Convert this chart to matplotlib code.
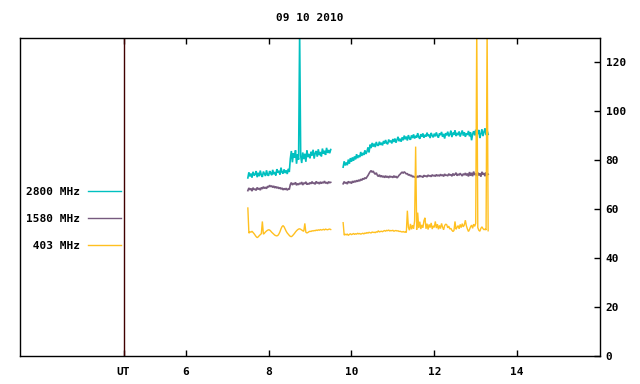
import matplotlib
matplotlib.use("Agg")
import matplotlib.pyplot as plt
import numpy as np

# sampling times (UT hours), two recording blocks, 0.025 h apart
t_block1 = np.round(np.arange(7.500, 9.5001, 0.025), 3)
t_block2 = np.round(np.arange(9.800, 13.3001, 0.025), 3)

# 2800 MHz flux
f2800_b1 = [72.8, 75.1, 73.4, 74.6, 72.9, 75.3, 73.8, 74.2, 75.6, 73.1,
            74.9, 73.5, 75.8, 74.0, 73.2, 75.4, 74.5, 73.6, 75.9, 74.1,
            73.7, 75.6, 74.8, 73.9, 76.1, 74.3, 75.2, 73.8, 76.4, 74.9,
            75.7, 74.2, 77.0, 75.1, 74.6, 76.3, 74.8, 75.9, 74.4, 76.5,
            75.2,
            80.6, 83.8, 79.2, 82.9, 81.0, 84.1, 78.6, 82.4, 80.3,
            131.5,
            81.8, 78.9, 83.2, 80.5, 82.7, 79.4, 84.0, 81.3, 82.6,
            80.8, 83.5, 81.9, 84.3, 80.7, 82.9, 83.8, 81.5, 84.5, 82.1,
            83.4, 81.6, 84.8, 82.7, 83.9, 82.2, 85.1, 83.0, 84.2, 82.9,
            84.4]
f2800_b2 = [77.2, 79.6, 77.9, 79.1, 78.0, 80.3, 78.6, 80.9, 79.4, 81.2,
            79.8, 81.6, 80.4, 82.5, 80.9, 82.0, 81.3, 83.4, 81.8, 83.0,
            82.2, 84.1, 82.6, 83.6, 85.3, 83.2, 86.4, 85.0, 87.1, 85.6,
            86.8, 85.4, 87.5, 86.2, 86.0, 87.6, 86.3, 87.2, 86.1, 87.9,
            86.8, 88.3, 87.0, 86.6, 88.5, 87.4, 88.1, 86.9, 88.7, 87.5,
            88.9, 87.2, 88.4, 89.6, 87.8, 88.8, 87.6, 89.4, 88.2, 90.1,
            88.6, 89.7, 88.1, 90.3, 89.0, 88.4, 90.2, 89.1, 90.6, 88.9,
            90.0, 89.3, 91.1, 89.5, 88.8, 90.7, 89.6, 91.0, 89.2, 90.4,
            89.7, 91.3, 89.9, 90.5, 89.1, 91.2, 90.1, 89.4, 90.9, 89.8,
            91.4, 90.0, 89.3, 91.0, 90.3, 91.6, 89.6, 90.8, 88.9, 91.1,
            90.2, 91.7, 89.8, 90.6, 92.1, 89.5, 91.3, 90.4, 92.3, 89.9,
            91.2, 90.3, 91.8, 89.7, 90.9, 92.2, 90.1, 91.5, 89.6, 91.0,
            90.4, 92.0, 89.8, 91.4, 88.2, 90.7, 91.9, 90.2, 92.5, 89.6,
            91.3, 92.4, 89.1, 90.8, 92.7, 89.9, 91.6, 93.0, 90.3, 92.1,
            90.6]

# 1580 MHz flux
f1580_b1 = [67.6, 68.7, 67.9, 68.5, 67.4, 68.8, 68.0, 68.3, 67.7, 68.9,
            68.1, 68.6, 67.8, 68.9, 68.3, 69.2, 68.5, 69.0, 68.4, 69.4,
            69.0, 69.8, 69.2, 69.6, 68.9, 69.5, 68.7, 69.3, 68.6, 69.1,
            68.4, 68.9, 68.2, 68.7, 67.9, 68.5, 68.0, 68.6, 67.8, 68.3,
            68.1,
            70.1, 70.9, 69.9, 70.6, 70.2, 71.0, 69.8, 70.5, 70.0,
            70.7,
            70.3, 71.1, 69.9, 70.8, 70.4, 71.2, 70.1, 70.6, 70.2,
            70.9, 70.4, 71.3, 70.5, 70.8, 70.2, 71.4, 70.6, 71.0, 70.3,
            71.2, 70.5, 71.1, 70.7, 71.5, 70.6, 71.0, 70.4, 71.3, 70.8,
            71.0]
f1580_b2 = [70.4, 71.3, 70.6, 71.0, 70.3, 71.4, 70.8, 71.2, 70.5, 71.5,
            70.9, 71.6, 71.1, 71.8, 71.3, 72.0, 71.5, 72.3, 71.8, 72.6,
            72.2, 72.9, 72.5, 73.2, 73.8, 74.6, 75.3, 75.8, 75.1, 75.6,
            74.8, 74.3, 74.9, 73.9, 73.4, 74.1, 73.2, 73.8, 73.1, 73.6,
            72.9, 73.7, 73.0, 73.5, 72.8, 73.6, 73.1, 73.4, 72.9, 73.7,
            73.0, 73.5, 72.8, 73.3, 73.9, 74.3, 74.8, 75.2, 74.7, 75.3,
            74.9, 74.4, 74.6, 73.9, 74.2, 73.6, 73.9, 73.2, 73.5, 73.0,
            73.4, 72.9, 73.6, 73.1, 73.8, 73.3, 73.5, 73.0, 73.9, 73.4,
            73.7, 73.2, 74.0, 73.5, 73.8, 73.3, 74.1, 73.6, 73.9, 73.4,
            74.2, 73.6, 74.0, 73.5, 74.3, 73.7, 74.1, 73.4, 74.4, 73.8,
            74.0, 73.6, 74.5, 73.9, 74.2, 73.5, 74.6, 73.8, 74.3, 74.9,
            73.7, 74.4, 73.9, 74.7, 74.1, 73.6, 74.5, 74.0, 74.8, 73.8,
            74.6, 73.4, 75.2, 73.7, 74.9, 73.5, 75.4, 74.0, 74.6, 73.6,
            75.0, 73.8, 74.7, 73.3, 75.3, 74.1, 74.8, 73.5, 75.1, 74.0,
            74.3]

# 403 MHz flux
f403_b1 = [60.5, 50.2, 50.8, 50.6, 51.0, 50.5, 50.0, 49.4, 48.8, 48.4,
           48.7, 49.2, 49.6, 50.0, 55.0, 49.8, 50.2, 50.7, 51.1, 51.4,
           51.6, 51.5, 51.1, 50.6, 50.2, 49.8, 49.4, 49.2, 49.1, 49.3,
           49.9, 50.8, 52.0, 52.9, 53.3, 52.8, 51.9, 51.0, 50.3, 49.8,
           49.3,
           48.9, 48.8, 49.1, 49.6, 50.1, 50.7, 51.2, 51.6, 51.9,
           52.0,
           51.8, 51.5, 51.2, 51.0, 54.2, 50.6, 50.3, 50.5, 50.8,
           51.0, 50.9, 51.2, 51.1, 51.3, 51.2, 51.5, 51.3, 51.6, 51.4,
           51.7, 51.5, 51.6, 51.8, 51.5, 51.9, 51.7, 51.6, 51.8, 51.9,
           51.7]
f403_b2 = [54.5, 49.4, 49.8, 49.5, 49.9, 49.3, 49.7, 50.0, 49.6, 49.8,
           50.1, 49.7, 50.0, 49.8, 50.2, 49.9, 50.1, 49.8, 50.0, 50.2,
           49.9, 50.3, 50.1, 50.5, 50.2, 50.6, 50.4, 50.3, 50.7, 50.5,
           50.6, 50.4, 50.8, 50.6, 51.2, 50.7, 50.9, 51.0, 50.8, 51.1,
           51.3, 51.0, 51.4, 51.2, 51.5, 51.1, 51.3, 51.2, 51.4, 51.0,
           51.2, 51.3, 51.1, 51.2, 50.9, 51.0, 50.8, 50.7, 50.9, 50.6,
           50.8, 50.5, 59.4, 52.6, 51.4, 54.0, 51.8, 53.5, 52.0, 55.2,
           85.6, 51.6, 58.6, 52.3, 54.9, 51.9, 53.6, 52.4, 55.3, 56.5,
           52.0, 54.1, 51.7, 53.8, 52.5, 54.4, 51.9, 53.2, 52.6, 55.0,
           52.3, 53.9, 51.8, 53.4, 52.1, 54.2, 52.7, 51.6, 53.3, 53.9,
           53.7, 52.4, 53.1, 51.9, 52.2, 51.4, 50.9, 51.3, 55.0, 51.8,
           52.6, 53.3, 52.0, 53.8, 52.5, 54.1, 52.8, 53.6, 55.5, 53.2,
           51.9, 50.9, 51.7, 52.8, 53.5, 52.2, 53.9, 53.0, 54.2, 135.0,
           52.5, 51.4, 51.0, 52.2, 52.8, 52.1, 51.6, 51.9, 51.5, 135.0,
           51.2]

labels = ["2800 MHz", "1580 MHz", " 403 MHz"]
colors = ["#00c0c0", "#765a7e", "#ffc020"]
widths = [1.2, 1.2, 1.0]

xticks = [4.5, 6, 8, 10, 12, 14]
xticklabels = ["UT", "6", "8", "10", "12", "14"]
yticks = [0, 20, 40, 60, 80, 100, 120]

mono = {"family": "DejaVu Sans Mono", "weight": "bold", "size": 8}

fig = plt.figure(figsize=(6.4, 3.84), dpi=100)
ax = fig.add_axes([20 / 640, 28 / 384, 580 / 640, 318 / 384])

t_all = np.concatenate([t_block1, [np.nan], t_block2])
for vals1, vals2, lab, col, lw in zip([f2800_b1, f1580_b1, f403_b1],
                                      [f2800_b2, f1580_b2, f403_b2],
                                      labels, colors, widths):
    y = np.concatenate([vals1, [np.nan], vals2])
    ax.plot(t_all, y, color=col, lw=lw, label=lab, solid_joinstyle="bevel")

ax.axvline(4.5, color="#400000", lw=1.0)

ax.set_xlim(2, 16)
ax.set_ylim(0, 130)
ax.set_xticks(xticks)
ax.set_xticklabels(xticklabels, fontdict=mono)
ax.set_yticks(yticks)
ax.set_yticklabels([str(v) for v in yticks], fontdict=mono)
ax.tick_params(axis="x", direction="in", top=True, bottom=True, length=4, width=1, pad=8)
ax.tick_params(axis="y", direction="in", left=False, right=True, labelleft=False,
               labelright=True, length=4, width=1, pad=4)
for sp in ax.spines.values():
    sp.set_linewidth(1.0)

leg = ax.legend(loc="center right", bbox_to_anchor=(121 / 640, 1 - 219 / 384),
                bbox_transform=fig.transFigure, frameon=False, markerfirst=False,
                prop=mono, borderpad=0, borderaxespad=0, handlelength=3.0,
                handletextpad=0.7, labelspacing=1.55)
for h in leg.get_lines():
    h.set_linewidth(1.0)

fig.text(310 / 640, 1 - 18 / 384, "09 10 2010", ha="center", va="center", fontdict=mono)

fig.savefig("out.png", dpi=100)
